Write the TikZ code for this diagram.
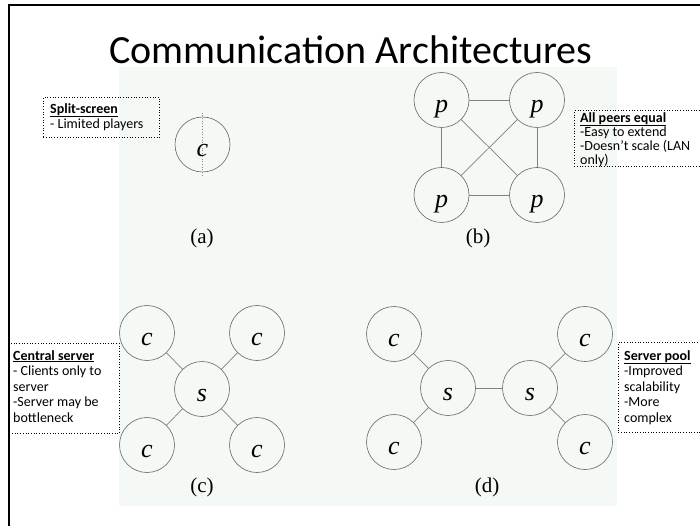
\documentclass[tikz,border=0pt]{standalone}
\usepackage{fontspec}
\setmainfont{Carlito}
\newfontfamily\tnr{Liberation Serif}
\begin{document}
\begin{tikzpicture}[x=1pt,y=-1pt,
  peer/.style={circle,draw=black!60,line width=0.6pt,minimum size=55pt,inner sep=0pt,text height=25pt,text depth=0pt,font=\tnr\itshape\fontsize{26}{26}\selectfont},
  link/.style={draw=black!50,line width=0.7pt},
  caption/.style={font=\tnr\fontsize{21}{21}\selectfont,inner sep=0pt},
  notebox/.style={draw=black,dotted,line width=0.7pt,anchor=north west,inner sep=0pt},
  notetext/.style={anchor=north west,align=left,inner sep=0pt,font=\fontsize{14}{15.6}\selectfont},
]
\useasboundingbox (0,0) rectangle (700,526);
% background panel
\fill[fill={rgb,255:red,244;green,249;blue,245}] (119,67) rectangle (617,506);
% slide border
\draw[line width=2.5pt] (9,530) -- (9,5) -- (705,5);
% title
\node[font=\fontsize{40}{40}\selectfont,anchor=base,inner sep=0pt] (title) at (351,64) {Communication Architectures};

% (a)
\node[peer] (ac) at (202.5,144.5) {c};
\draw[draw=black!45,dotted,line width=0.7pt] ([yshift=4]ac.north) -- ([yshift=-4]ac.south);
\node[caption] (alab) at (202,238) {(a)};

% (b)
\node[peer] (p1) at (441.5,100) {p};
\node[peer] (p2) at (537,100) {p};
\node[peer] (p3) at (441.5,195) {p};
\node[peer] (p4) at (537,195) {p};
\draw[link] (p1) -- (p2);
\draw[link] (p3) -- (p4);
\draw[link] (p1) -- (p3);
\draw[link] (p2) -- (p4);
\draw[link] (p1) -- (p4);
\draw[link] (p2) -- (p3);
\node[caption] (blab) at (478,238) {(b)};

% (c)
\node[peer] (cs) at (202,389) {s};
\node[peer] (c1) at (147,333) {c};
\node[peer] (c2) at (257,333) {c};
\node[peer] (c3) at (147,445) {c};
\node[peer] (c4) at (257,445) {c};
\draw[link] (cs) -- (c1);
\draw[link] (cs) -- (c2);
\draw[link] (cs) -- (c3);
\draw[link] (cs) -- (c4);
\node[caption] (clab) at (202,487) {(c)};

% (d)
\node[peer] (ds1) at (448,388) {s};
\node[peer] (ds2) at (530,388) {s};
\node[peer] (d1) at (394,334) {c};
\node[peer] (d2) at (394,442) {c};
\node[peer] (d3) at (585,334) {c};
\node[peer] (d4) at (585,442) {c};
\draw[link] (ds1) -- (ds2);
\draw[link] (ds1) -- (d1);
\draw[link] (ds1) -- (d2);
\draw[link] (ds2) -- (d3);
\draw[link] (ds2) -- (d4);
\node[caption] (dlab) at (487,487) {(d)};

% notes
\node[notebox,minimum width=116pt,minimum height=40pt] (splitbox) at (43,97) {};
\node[notetext] (splittext) at (50,103) {\underline{\textbf{Split-screen}}\\- Limited players};

\node[notebox,minimum width=140pt,minimum height=56pt] (peersbox) at (574,110) {};
\node[notetext,font=\fontsize{14}{14}\selectfont] (peerstext) at (580,112) {\underline{\textbf{All peers equal}}\\-Easy to extend\\-Doesn’t scale (LAN\\only)};

\node[notebox,minimum width=110pt,minimum height=90pt] (centralbox) at (9,343) {};
\node[notetext] (centraltext) at (13,350) {\underline{\textbf{Central server}}\\- Clients only to\\server\\-Server may be\\bottleneck};

\node[notebox,minimum width=100pt,minimum height=90pt] (poolbox) at (618,342) {};
\node[notetext] (pooltext) at (624,350) {\underline{\textbf{Server pool}}\\-Improved\\scalability\\-More\\complex};
\end{tikzpicture}
\end{document}
